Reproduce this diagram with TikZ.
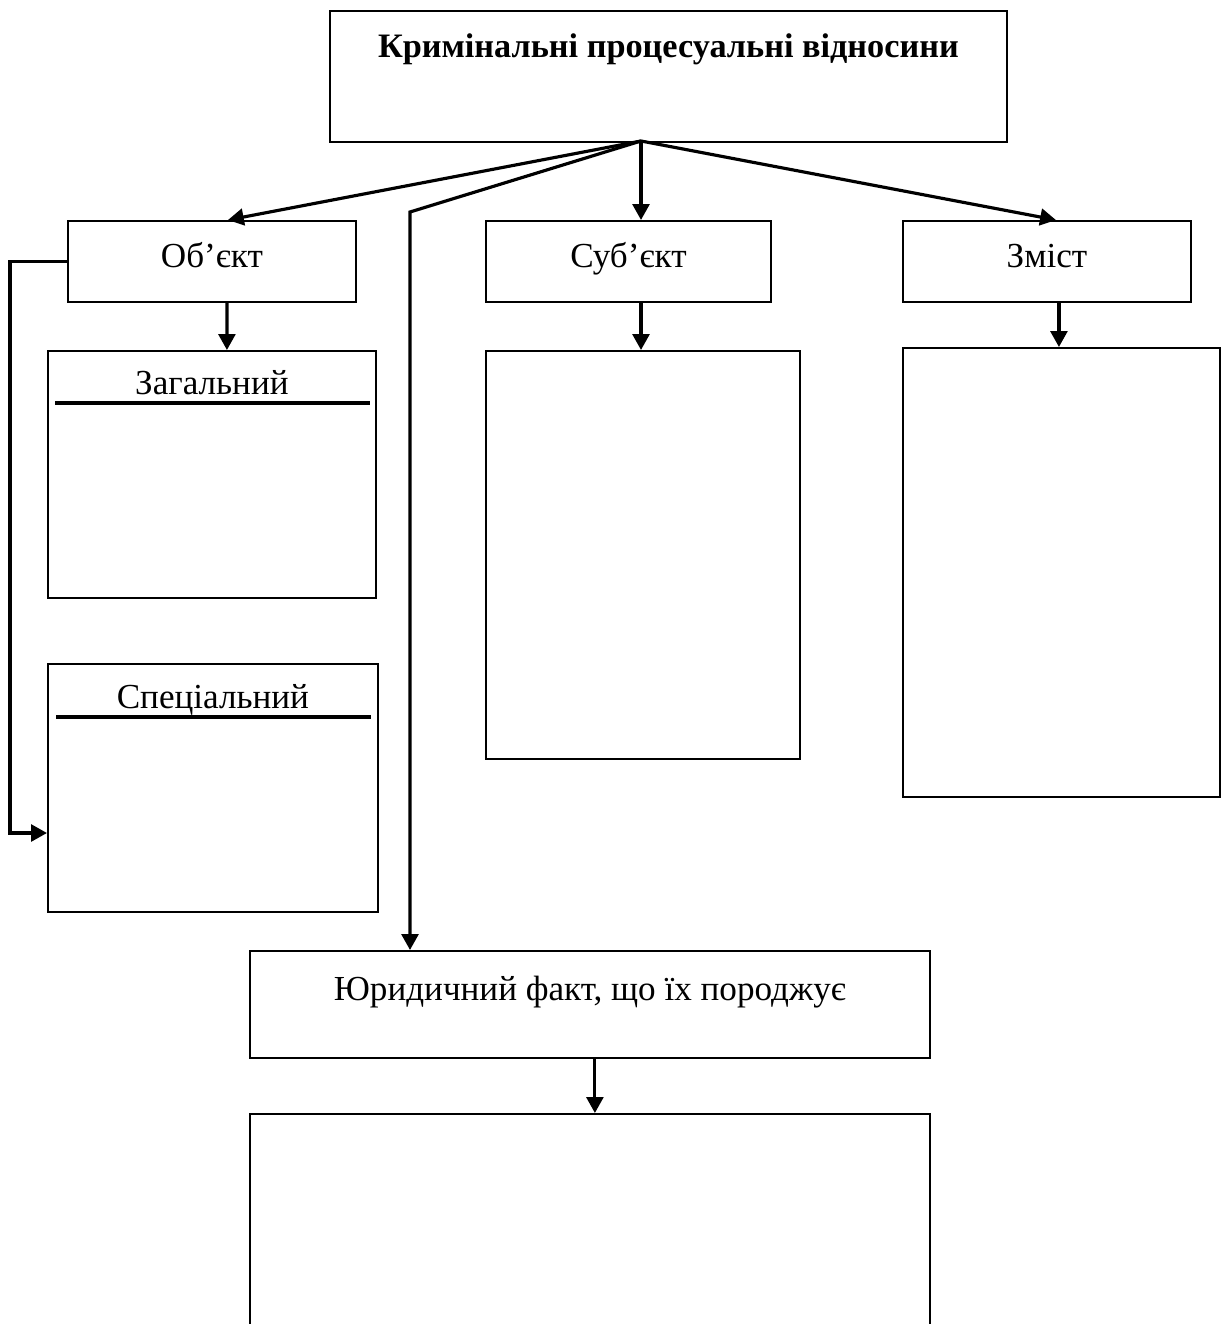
\documentclass[tikz,border=0pt]{standalone}
\usepackage{fontspec}
\setmainfont{Liberation Serif}
\usetikzlibrary{arrows.meta,positioning,calc}

\begin{document}
\begin{tikzpicture}[x=0.02cm, y=-0.02cm,
    >={Triangle[length=9pt,width=9.5pt]},
    box/.style={draw, line width=1.1pt, inner sep=0pt, anchor=north west,
        align=center, font=\fontsize{20}{24}\selectfont},
    link/.style={line width=1.8pt}]
    \clip (0,0) rectangle (1223,1324);

    % Top box
    \node[box, font=\fontsize{19.5}{23}\selectfont\bfseries, minimum width=13.54cm,
        text height=0.94cm, text depth=1.68cm] (rel) at (329,10)
        {Кримінальні процесуальні відносини};

    % Second row
    \node[box, minimum width=5.76cm, text height=0.94cm, text depth=0.68cm]
        (obj) at (67,220) {Об’єкт};
    \node[box, minimum width=5.70cm, text height=0.94cm, text depth=0.68cm]
        (subj) at (485,220) {Суб’єкт};
    \node[box, minimum width=5.76cm, text height=0.94cm, text depth=0.68cm]
        (cont) at (902,220) {Зміст};

    % Content boxes
    \node[box, minimum width=6.56cm, text height=0.88cm, text depth=4.06cm]
        (gen) at (47,350) {Загальний};
    \node[box, minimum width=6.60cm, text height=0.90cm, text depth=4.06cm]
        (spec) at (47,663) {Спеціальний};
    \node[box, minimum width=6.28cm, minimum height=8.16cm] (subjbox) at (485,350) {};
    \node[box, minimum width=6.34cm, minimum height=8.98cm] (contbox) at (902,347) {};

    % Bottom boxes
    \node[box, minimum width=13.6cm, text height=1.0cm, text depth=1.14cm]
        (fact) at (249,950) {Юридичний факт, що їх породжує};
    \node[box, minimum width=13.6cm, minimum height=6cm] (factbox) at (249,1113) {};

    % Underlines
    \draw[link] ($(gen.north west)+(8,53)$) -- ($(gen.north east)+(-7,53)$);
    \draw[link] ($(spec.north west)+(9,54)$) -- ($(spec.north east)+(-8,54)$);

    % Arrows from the top box
    \coordinate (hub) at (641,141);
    \coordinate (bend) at (410,212);
    \draw[link, ->] (hub) -- ($(obj.north)+(16,0)$);
    \draw[link, ->] (hub) -- (hub |- subj.north);
    \draw[link, ->] (hub) -- ($(cont.north)+(9,0)$);
    \draw[link, ->] (hub) -- (bend) -- (bend |- fact.north);

    % Arrows down
    \coordinate (cdown) at ($(cont.south)+(12,0)$);
    \draw[link, ->] ($(obj.south)+(15,0)$) -- ($(gen.north)+(15,0)$);
    \draw[link, ->] (hub |- subj.south) -- (hub |- subjbox.north);
    \draw[link, ->] (cdown) -- (cdown |- contbox.north);
    \draw[link, ->] ($(fact.south)+(5,0)$) -- ($(factbox.north)+(5,0)$);

    % Side loop
    \draw[link, ->] (obj.west) -- ++(-57,0) |- ($(spec.north west)+(0,170)$);
\end{tikzpicture}
\end{document}
